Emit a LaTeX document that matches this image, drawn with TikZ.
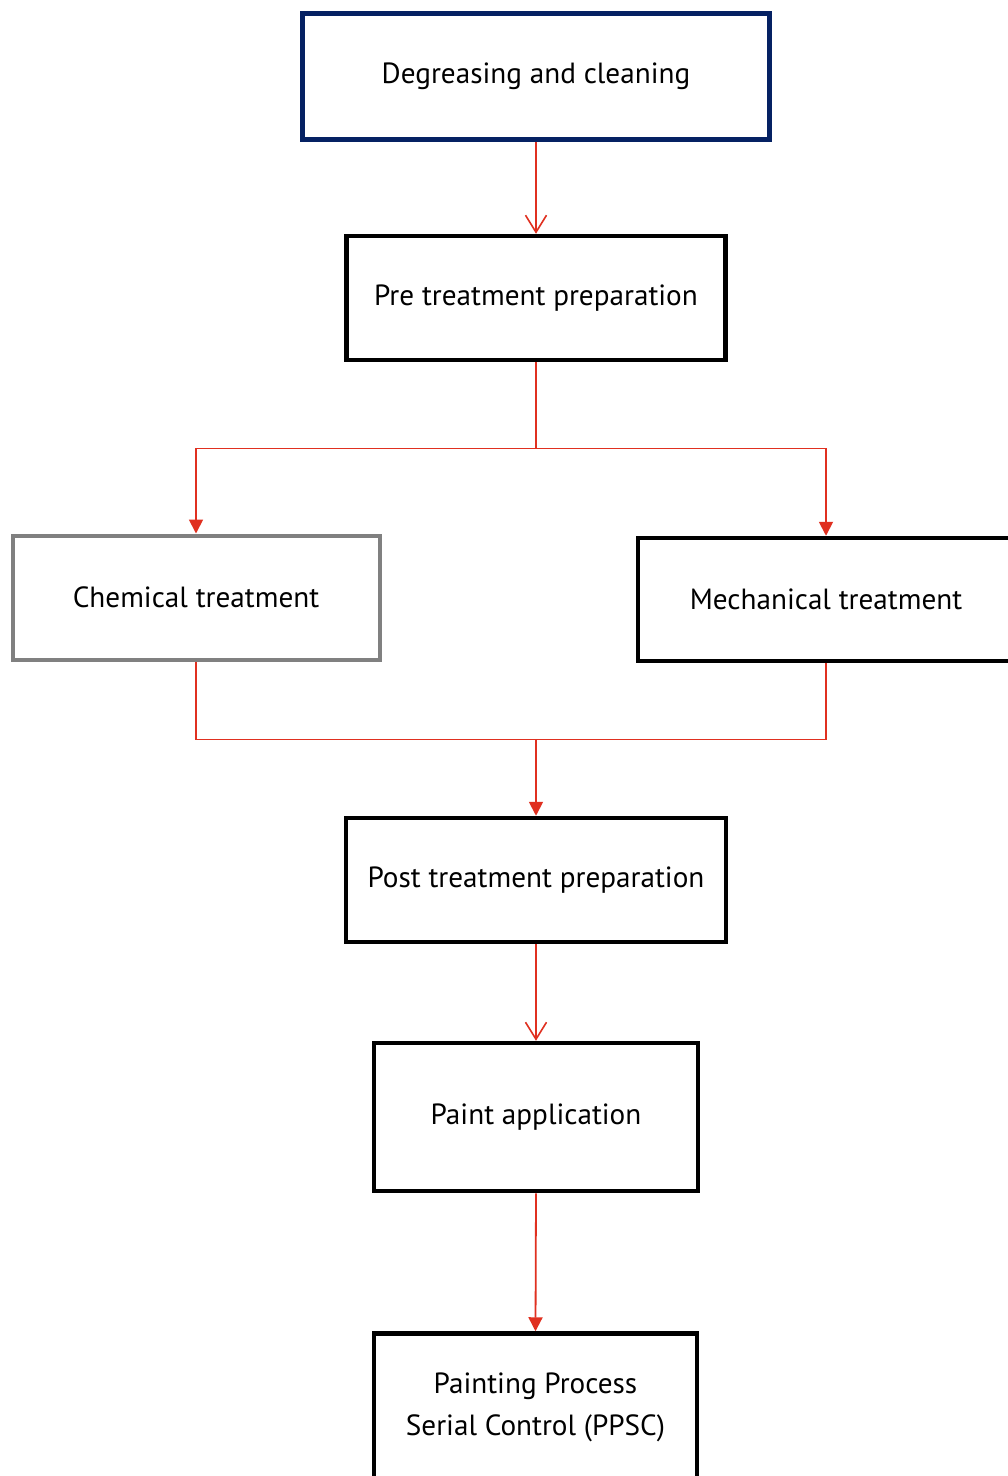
\documentclass[tikz,border=0pt]{standalone}
\usepackage{fontspec}
\setmainfont{PT Sans}
\usetikzlibrary{arrows.meta}
\definecolor{navy}{RGB}{5,33,99}
\definecolor{boxgray}{RGB}{128,128,128}
\definecolor{linkred}{RGB}{224,48,32}
\tikzset{
  stage/.style={draw=black, line width=4.5pt, fill=white, rectangle, inner sep=0pt, align=center,
    font=\fontsize{29.2}{42}\selectfont},
  link/.style={draw=linkred, line width=1.8pt},
  openarrow/.style={link, -{Straight Barb[length=17pt,width=21pt,line width=1.6pt]}},
  fillarrow/.style={link, -{Triangle[length=14pt,width=14pt]}, color=linkred},
}
\begin{document}
\begin{tikzpicture}[x=1pt,y=-1pt]
\clip (0,0) rectangle (1008,1476);
\useasboundingbox (0,0) rectangle (1008,1476);
\fill[white] (0,0) rectangle (1008,1476);

\node[stage, draw=navy, line width=5pt, minimum width=467pt, minimum height=126pt] (deg) at (536,76) {Degreasing and cleaning};
\node[stage, minimum width=379pt, minimum height=124pt] (pre) at (536,298) {Pre treatment preparation};
\node[stage, draw=boxgray, line width=4pt, minimum width=367pt, minimum height=124pt] (chem) at (196,597.5) {Chemical treatment};
\node[stage, minimum width=376pt, minimum height=123pt] (mech) at (826,599.5) {Mechanical treatment};
\node[stage, minimum width=380pt, minimum height=124pt] (post) at (536,880) {Post treatment preparation};
\node[stage, minimum width=324pt, minimum height=148pt] (paint) at (536,1117) {Paint application};
\node[stage, minimum width=323pt, minimum height=148pt] (ppsc) at (535.5,1407.5) {Painting Process\\Serial Control (PPSC)};

\coordinate (split) at (536,448.5);
\coordinate (merge) at (536,739.5);

\draw[openarrow] (deg.south) -- (pre.north);
\draw[link] (pre.south) -- (split);
\draw[fillarrow] (split) -| (chem.north);
\draw[fillarrow] (split) -| (mech.north);
\draw[link] (chem.south) |- (merge);
\draw[link] (mech.south) |- (merge);
\draw[fillarrow] (merge) -- (post.north);
\draw[openarrow] (post.south) -- (paint.north);
\draw[fillarrow] (paint.south) -- (ppsc.north);
\end{tikzpicture}
\end{document}
